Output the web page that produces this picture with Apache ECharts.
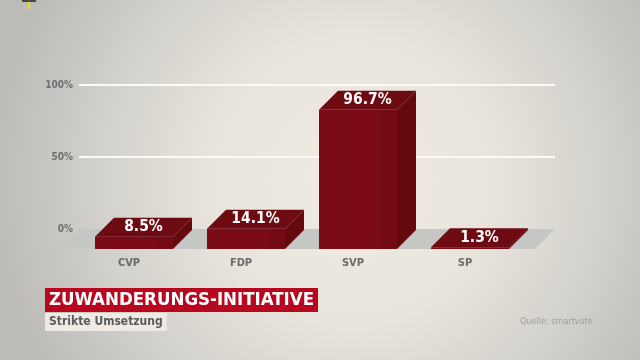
<!DOCTYPE html>
<html>
<head>
<meta charset="utf-8">
<script src="https://cdn.jsdelivr.net/npm/echarts@6/dist/echarts.min.js"></script>
<style>html,body{margin:0;padding:0;}#c{width:640px;height:360px;}</style>
</head>
<body>
<div id="c"></div>
<script>
const categories = ['CVP', 'FDP', 'SVP', 'SP'];
const values = [8.5, 14.1, 96.7, 1.3];
const yTicks = [0, 50, 100];
const titleText = 'ZUWANDERUNGS-INITIATIVE';
const subtitleText = 'Strikte Umsetzung';
const sourceText = 'Quelle: smartvote';

const chart = echarts.init(document.getElementById('c'));
const FONT = '"DejaVu Sans Condensed", "DejaVu Sans", sans-serif';
const DEPTH = 19, FLOOR_DEPTH = 20, BAR_W = 78, BAR_OFF = 5;

const option = {
  backgroundColor: {
    type: 'radial', x: 0.55, y: 0.5, r: 1,
    colorStops: [
      { offset: 0, color: '#f1ece2' },
      { offset: 0.4, color: '#e8e4dc' },
      { offset: 0.7, color: '#d3d1cc' },
      { offset: 1, color: '#bcbbb8' }
    ]
  },
  animation: false,
  title: [
    {
      text: titleText, left: 45, top: 288,
      backgroundColor: '#b8081f', padding: [2, 4, 2, 4],
      textStyle: { color: '#ffffff', fontSize: 18.5, fontWeight: 'bold', fontFamily: FONT, lineHeight: 20 }
    },
    {
      text: subtitleText, left: 45, top: 313,
      backgroundColor: '#efebe4', padding: [2, 4, 2, 4],
      textStyle: { color: '#5a5a5a', fontSize: 12, fontWeight: 'bold', fontFamily: FONT, lineHeight: 14 }
    },
    {
      text: sourceText, left: 515, top: 312,
      textStyle: { color: '#9e9c98', fontSize: 9, fontWeight: 'normal', fontFamily: FONT }
    }
  ],
  grid: [
    { left: 79, right: 85, top: 85, bottom: 131 },
    { left: 73, right: 119, top: 85, bottom: 131 }
  ],
  xAxis: [
    { gridIndex: 0, type: 'value', min: 0, max: 1, show: false },
    {
      gridIndex: 1, type: 'category', data: categories,
      axisLine: { show: false }, axisTick: { show: false },
      axisLabel: { margin: 29, color: '#6a6a6a', fontSize: 11, fontWeight: 'bold', fontFamily: FONT }
    }
  ],
  yAxis: [
    {
      gridIndex: 0, type: 'value', min: 0, max: 100, interval: 50,
      axisLine: { show: false }, axisTick: { show: false },
      axisLabel: {
        margin: 6, color: '#6e6e6e', fontSize: 10, fontWeight: 'bold', fontFamily: FONT,
        padding: [0, 0, 3, 0],
        formatter: v => yTicks.includes(v) ? v + '%' : ''
      },
      splitLine: { show: true, showMinLine: false, lineStyle: { color: '#fbfaf6', width: 2 } }
    },
    { gridIndex: 1, type: 'value', min: 0, max: 100, show: false }
  ],
  graphic: [
    { type: 'line', shape: { x1: 29, y1: 0, x2: 29, y2: 9 }, style: { stroke: '#e8e020', lineWidth: 2 } },
    { type: 'line', shape: { x1: 22, y1: 1, x2: 36, y2: 1 }, style: { stroke: '#222', lineWidth: 1.5 } }
  ],
  series: [
    {
      type: 'custom', xAxisIndex: 0, yAxisIndex: 0, silent: true,
      data: [[0, 0]],
      renderItem: function (params, api) {
        const a = api.coord([0, 0]);
        const b = api.coord([1, 0]);
        return {
          type: 'polygon',
          shape: { points: [[a[0], a[1]], [b[0], b[1]], [b[0] - FLOOR_DEPTH, b[1] + FLOOR_DEPTH], [a[0] - FLOOR_DEPTH, a[1] + FLOOR_DEPTH]] },
          style: { fill: '#c6c6c5' }
        };
      }
    },
    {
      type: 'custom', xAxisIndex: 1, yAxisIndex: 1, silent: true,
      data: values.map((v, i) => [i, v]),
      renderItem: function (params, api) {
        const idx = api.value(0), val = api.value(1);
        const c0 = api.coord([idx, 0]);
        const cv = api.coord([idx, val]);
        const fx = c0[0] + BAR_OFF - BAR_W / 2;
        const fr = fx + BAR_W;
        const fb = c0[1] + FLOOR_DEPTH;
        const ft = fb - (c0[1] - cv[1]);
        const D = DEPTH;
        return {
          type: 'group',
          children: [
            {
              type: 'polygon',
              shape: { points: [[fr, ft], [fr + D, ft - D], [fr + D, fb - D], [fr, fb]] },
              style: { fill: '#66090f' }
            },
            {
              type: 'rect',
              shape: { x: fx, y: ft, width: BAR_W, height: fb - ft },
              style: {
                fill: {
                  type: 'linear', x: 0, y: 0, x2: 1, y2: 0,
                  colorStops: [
                    { offset: 0, color: '#7b0c15' },
                    { offset: 0.78, color: '#7b0c15' },
                    { offset: 0.8, color: '#740b13' },
                    { offset: 1, color: '#740b13' }
                  ]
                }
              }
            },
            {
              type: 'polygon',
              shape: { points: [[fx, ft], [fr, ft], [fr + D, ft - D], [fx + D, ft - D]] },
              style: { fill: '#6d0a12' }
            },
            {
              type: 'text',
              style: {
                x: fx + BAR_W / 2 + D / 2, y: ft - D / 2,
                text: String(val).replace(/^(\d+)$/, '$1.0') + '%',
                align: 'center', verticalAlign: 'middle',
                fill: '#ffffff', fontSize: 15.5, fontWeight: 'bold', fontFamily: FONT
              }
            }
          ]
        };
      }
    }
  ]
};
chart.setOption(option);
</script>
</body>
</html>
